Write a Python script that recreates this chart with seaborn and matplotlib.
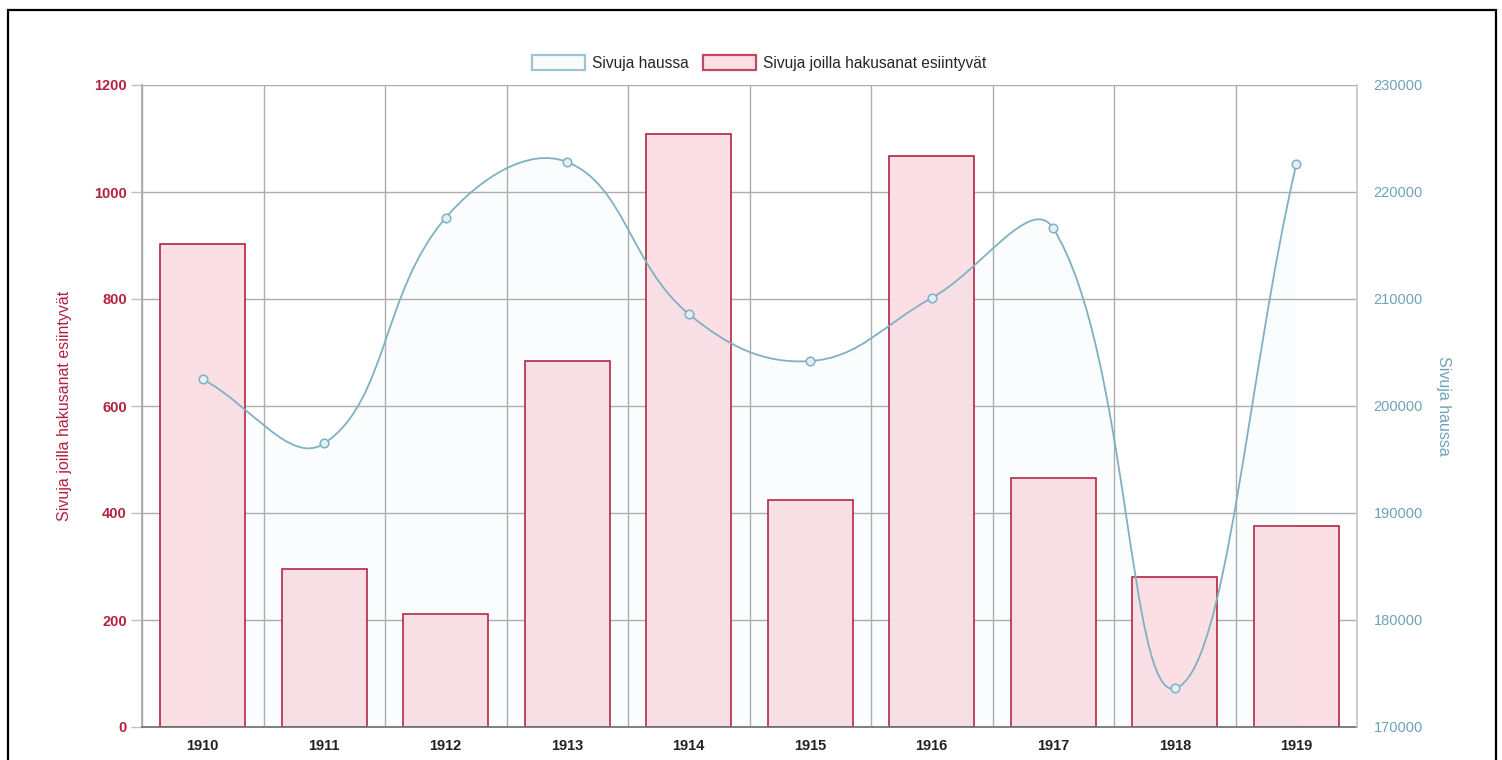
import numpy as np
import matplotlib
matplotlib.use("Agg")
import matplotlib.pyplot as plt
from matplotlib.path import Path
from matplotlib.patches import PathPatch, Rectangle, Patch
import seaborn as sns

# data
years = ['1910', '1911', '1912', '1913', '1914', '1915', '1916', '1917', '1918', '1919']
hits = [903, 295, 211, 684, 1108, 424, 1067, 465, 280, 376]
pages = [202500, 196500, 217600, 222800, 208600, 204200, 210100, 216600, 173600, 222600]

RED = '#b3223f'
RED_FILL = '#fcdfe5'
BLUE = '#80b1c2'
BLUE_TXT = '#6ea3b6'
GRID = '#adadad'
FS = 10.5

sns.set_theme(style='white')
plt.rcParams['font.family'] = ['Liberation Sans', 'DejaVu Sans']

W, H = 1502, 760
fig = plt.figure(figsize=(W / 100, H / 100), dpi=100)
ax = fig.add_axes([142 / W, 33 / H, 1215 / W, 642 / H])

# bars (left axis)
sns.barplot(x=years, y=hits, ax=ax, color=RED_FILL, saturation=1,
            edgecolor=RED, linewidth=1.2, width=0.7, zorder=2)
ax.set_xlim(-0.5, 9.5)
ax.set_ylim(0, 1200)
ax.set_yticks(range(0, 1201, 200))
ax.set_xticks(np.arange(-0.5, 10, 1), minor=True)
ax.set_axisbelow(True)
ax.grid(axis='y', color=GRID, lw=1)
ax.grid(axis='x', which='minor', color=GRID, lw=1)
ax.tick_params(axis='x', which='major', length=0, pad=9, labelsize=FS, labelcolor='#222222')
ax.tick_params(axis='x', which='minor', length=10, color='#c8c8c8', width=1)
ax.tick_params(axis='y', length=8, width=1, color='#c0c0c0', labelcolor=RED, labelsize=FS, pad=3)
for lab in ax.get_xticklabels() + ax.get_yticklabels():
    lab.set_fontweight('bold')
ax.set_xlabel('')
ax.set_ylabel('Sivuja joilla hakusanat esiintyvät', color=RED, fontsize=11.5)
ax.yaxis.set_label_coords((72 - 142) / 1215, 0.5)
for s in ['top', 'right']:
    ax.spines[s].set_visible(False)
ax.spines['left'].set_color('#a8a8a8')
ax.spines['bottom'].set_color('#707070')

# line (right axis)
ax2 = ax.twinx()
ax2.set_xlim(-0.5, 9.5)
ax2.set_ylim(170000, 230000)
ax2.set_yticks(range(170000, 230001, 10000))
ax2.tick_params(axis='y', length=0, labelcolor=BLUE_TXT, labelsize=FS, pad=12)
ax2.set_ylabel('Sivuja haussa', color=BLUE_TXT, fontsize=11.5, rotation=270, va='center')
ax2.yaxis.set_label_coords((1443 - 142) / 1215, 0.5)
for s in ['top', 'left', 'bottom']:
    ax2.spines[s].set_visible(False)
ax2.spines['right'].set_color('#c8c8c8')

# smooth curve like chart.js (tension 0.4), control points in pixel space
xs = np.arange(len(pages))
pts = ax2.transData.transform(np.column_stack([xs, pages]))
n = len(pts)
cps = []
for i in range(n):
    p0 = pts[max(i - 1, 0)]
    p1 = pts[i]
    p2 = pts[min(i + 1, n - 1)]
    d01 = np.hypot(*(p1 - p0))
    d12 = np.hypot(*(p2 - p1))
    tot = d01 + d12
    s01 = d01 / tot if tot else 0
    s12 = d12 / tot if tot else 0
    cps.append((p1 - 0.4 * s01 * (p2 - p0), p1 + 0.4 * s12 * (p2 - p0)))

verts = [pts[0]]
codes = [Path.MOVETO]
for i in range(1, n):
    verts += [cps[i - 1][1], cps[i][0], pts[i]]
    codes += [Path.CURVE4] * 3
verts = ax2.transData.inverted().transform(np.array(verts))

fill_verts = np.vstack([verts, [[xs[-1], 170000], [xs[0], 170000], verts[0]]])
fill_codes = codes + [Path.LINETO, Path.LINETO, Path.CLOSEPOLY]
ax2.add_patch(PathPatch(Path(fill_verts, fill_codes), facecolor='#a8c8e8', alpha=0.04,
                        edgecolor='none', zorder=1))
ax2.add_patch(PathPatch(Path(verts, codes), facecolor='none', edgecolor=BLUE,
                        lw=1.3, zorder=2))
sns.scatterplot(x=xs, y=pages, ax=ax2, s=38, color='#e4eff4', edgecolor=BLUE,
                linewidth=1.1, zorder=3)

# legend
handles = [Patch(facecolor='#f9fbfd', edgecolor='#9cc3d2', lw=1.6),
           Patch(facecolor=RED_FILL, edgecolor='#c0485f', lw=1.6)]
fig.legend(handles, ['Sivuja haussa', 'Sivuja joilla hakusanat esiintyvät'],
           loc='center', bbox_to_anchor=(759 / W, 1 - 63 / H), ncol=2, frameon=False,
           fontsize=11.2, handlelength=3.4, handleheight=1.05, handletextpad=0.45,
           columnspacing=0.9)

# outer frame of the screenshot
fig.patches.append(Rectangle((8 / W, -0.1), (1496 - 8) / W, 1.1 - 10 / H,
                             transform=fig.transFigure, fill=False,
                             edgecolor='black', lw=1.6))

fig.savefig('out.png', dpi=100)
